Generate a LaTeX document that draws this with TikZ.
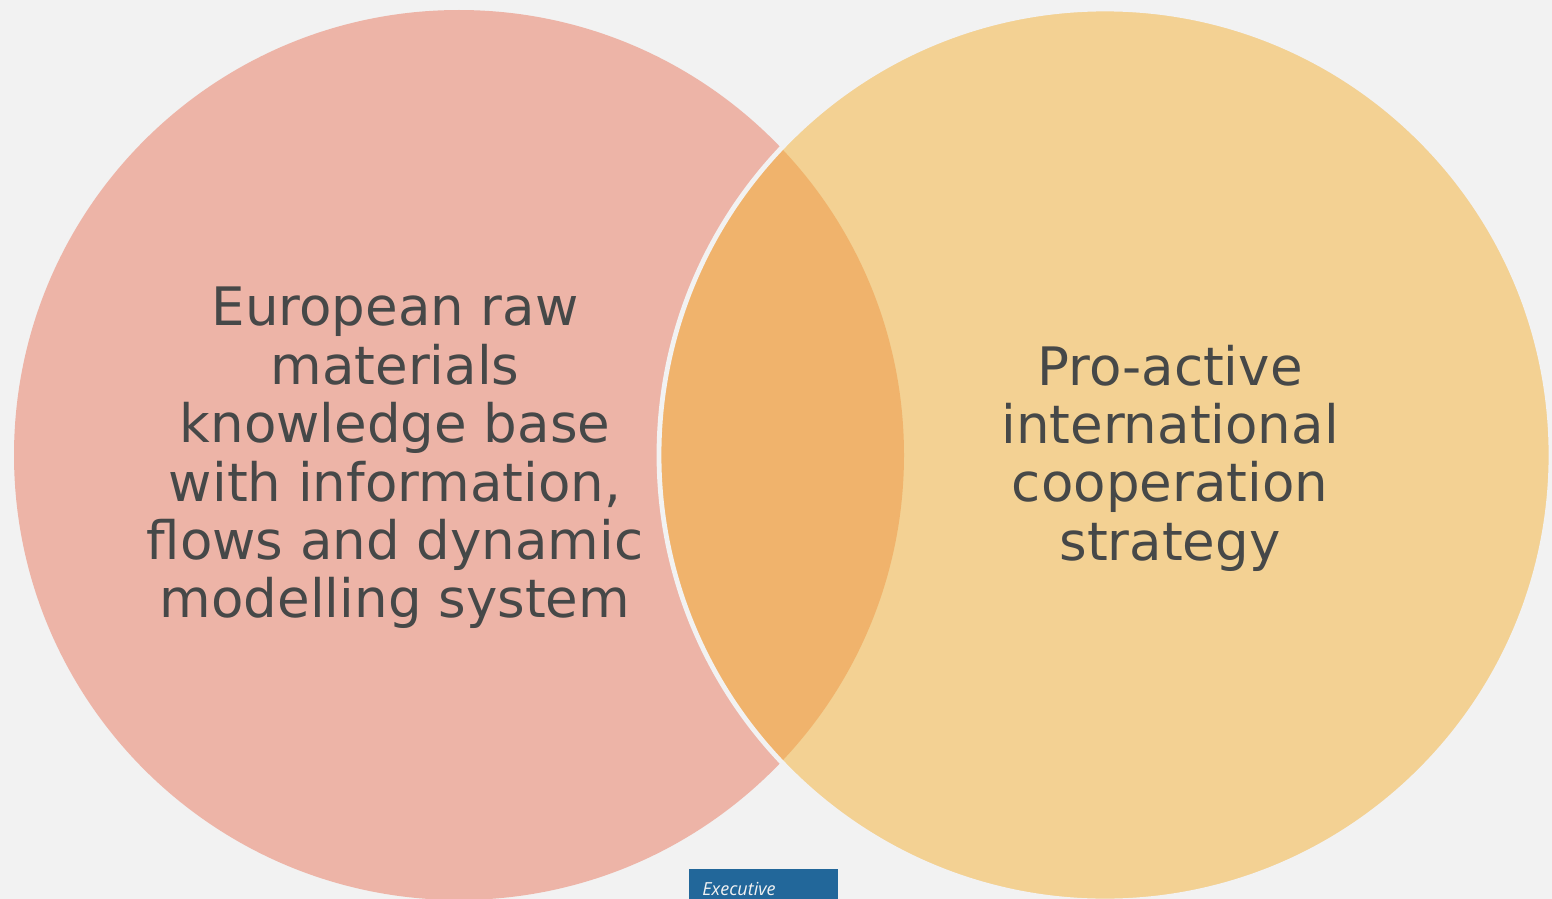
\documentclass[tikz,border=0pt]{standalone}
\usepackage{fontspec}
\setmainfont{DejaVu Sans}
\newfontfamily\boxfont{Open Sans}
\definecolor{bgc}{HTML}{F2F2F2}
\definecolor{leftc}{HTML}{EDB4A7}
\definecolor{rightc}{HTML}{F3D193}
\definecolor{lensc}{HTML}{F0B36C}
\definecolor{txtc}{HTML}{464848}
\definecolor{boxc}{HTML}{22679A}
\tikzset{
  lbl/.style={align=center, text=txtc, font=\fontsize{26.5}{29.2}\selectfont, inner sep=0pt},
}
\begin{document}
\begin{tikzpicture}[x=0.5pt,y=-0.5pt]
\fill[bgc] (0,0) rectangle (1552,899);
\useasboundingbox (0,0) rectangle (1552,899);
\coordinate (cl) at (459,455);
\coordinate (cr) at (1105,455);
\fill[leftc] (cl) circle[radius=222.5pt];
\fill[rightc] (cr) circle[radius=223pt];
\begin{scope}
\clip (cl) circle[radius=222.5pt];
\fill[lensc] (cr) circle[radius=223pt];
\end{scope}
\draw[bgc, line width=2.4pt] (cr) circle[radius=223pt];
\node[lbl] (ltxt) at (395,458) {European raw\\materials\\knowledge base\\with information,\\flows and dynamic\\modelling system};
\node[lbl] (rtxt) at (1170,458) {Pro-active\\international\\cooperation\\strategy};
\fill[boxc] (689,869) rectangle (838,905);
\node[anchor=base west, inner sep=0pt, text=bgc, font=\boxfont\itshape\fontsize{9}{10}\selectfont] (exec) at (702,895) {Executive};
\end{tikzpicture}
\end{document}
